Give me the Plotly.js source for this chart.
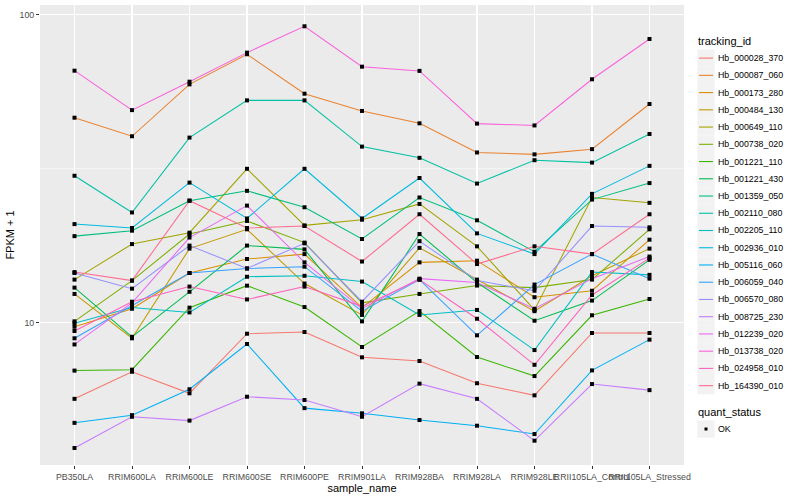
<!DOCTYPE html>
<html><head><meta charset="utf-8">
<script src="https://cdn.plot.ly/plotly-3.0.1.min.js"></script>
<style>html,body{margin:0;padding:0;background:#fff}#chart{width:800px;height:500px}</style>
</head><body><div id="chart"></div>
<script>
// ---- data ----
const sampleNames = ["PB350LA","RRIM600LA","RRIM600LE","RRIM600SE","RRIM600PE","RRIM901LA","RRIM928BA","RRIM928LA","RRIM928LE","RRII105LA_Control","RRII105LA_Stressed"];
const trackingIds = ["Hb_000028_370","Hb_000087_060","Hb_000173_280","Hb_000484_130","Hb_000649_110","Hb_000738_020","Hb_001221_110","Hb_001221_430","Hb_001359_050","Hb_002110_080","Hb_002205_110","Hb_002936_010","Hb_005116_060","Hb_006059_040","Hb_006570_080","Hb_008725_230","Hb_012239_020","Hb_013738_020","Hb_024958_010","Hb_164390_010"];
const hb_000028_370 = [5.66, 6.93, 5.90, 9.21, 9.33, 7.72, 7.51, 6.36, 5.81, 9.26, 9.26];
const hb_000087_060 = [46.3, 40.3, 59.4, 74.4, 55.4, 48.7, 44.4, 35.7, 35.2, 36.6, 51.3];
const hb_000173_280 = [9.7, 11.1, 14.5, 16.1, 16.7, 11.2, 15.7, 15.9, 12.1, 12.7, 18.6];
const hb_000484_130 = [12.4, 8.9, 17.4, 20.1, 13.4, 10.6, 17.5, 13.8, 10.9, 14.2, 17.4];
const hb_000649_110 = [13.8, 18.0, 19.6, 31.6, 20.7, 21.6, 24.3, 17.7, 11.0, 25.5, 24.5];
const hb_000738_020 = [10.1, 13.7, 19.4, 21.4, 18.2, 11.6, 12.4, 13.2, 13.0, 13.8, 20.1];
const hb_001221_110 = [6.99, 7.04, 11.19, 13.19, 11.24, 8.34, 10.91, 7.74, 6.71, 10.57, 11.94];
const hb_001221_430 = [13.0, 9.0, 12.6, 17.8, 17.3, 10.1, 19.4, 13.5, 10.15, 11.8, 16.0];
const hb_001359_050 = [19.1, 19.9, 24.9, 26.8, 23.7, 18.7, 25.5, 21.5, 17.0, 25.1, 28.4];
const hb_002110_080 = [30.0, 22.8, 39.9, 52.7, 52.7, 37.3, 34.3, 28.3, 33.7, 33.1, 41.0];
const hb_002205_110 = [9.96, 11.2, 10.8, 14.1, 14.2, 13.6, 10.6, 11.0, 8.15, 14.6, 14.3];
const hb_002936_010 = [20.9, 20.3, 28.5, 21.8, 31.6, 21.8, 29.5, 19.5, 16.7, 26.2, 32.3];
const hb_005116_060 = [4.73, 5.01, 6.08, 8.53, 5.28, 5.08, 4.83, 4.63, 4.35, 7.00, 8.81];
const hb_006059_040 = [8.9, 11.35, 14.5, 15.0, 15.2, 10.9, 13.8, 9.1, 13.3, 16.7, 13.9];
const hb_006570_080 = [14.5, 12.9, 17.8, 15.0, 18.1, 11.7, 18.4, 13.7, 12.7, 20.6, 20.4];
const hb_008725_230 = [3.92, 4.95, 4.81, 5.75, 5.61, 4.95, 6.34, 5.66, 4.14, 6.32, 6.04];
const hb_012239_020 = [8.5, 11.6, 18.9, 24.0, 15.7, 11.1, 13.9, 13.5, 11.1, 13.9, 16.4];
const hb_013738_020 = [65.8, 49.0, 60.6, 75.3, 91.7, 67.8, 65.7, 44.3, 43.7, 61.7, 83.4];
const hb_024958_010 = [9.4, 11.7, 13.1, 11.9, 13.1, 11.3, 13.8, 10.3, 7.3, 12.3, 16.2];
const hb_164390_010 = [14.6, 13.7, 24.9, 20.3, 20.6, 15.8, 22.5, 15.5, 17.7, 16.7, 22.5];
const quantStatus = ["OK"];
const yTickVals = [10, 100];
const yTickText = ["10", "100"];

const seriesList = [hb_000028_370, hb_000087_060, hb_000173_280, hb_000484_130, hb_000649_110, hb_000738_020, hb_001221_110, hb_001221_430, hb_001359_050, hb_002110_080, hb_002205_110, hb_002936_010, hb_005116_060, hb_006059_040, hb_006570_080, hb_008725_230, hb_012239_020, hb_013738_020, hb_024958_010, hb_164390_010];

// ---- styles ----
const palette = ["#F8766D","#EA8331","#D89000","#C09B00","#A3A500","#7CAE00","#39B600","#00BB4E","#00BF7D","#00C1A3","#00BFC4","#00BAE0","#00B0F6","#35A2FF","#9590FF","#C77CFF","#E76BF3","#FA62DB","#FF62BC","#FF6C91"];
const FONT = "Liberation Sans, Arial, Helvetica, sans-serif";

const traces = [];
seriesList.forEach((vals, i) => {
  traces.push({type:'scatter', mode:'lines', x: sampleNames, y: vals, name: trackingIds[i],
    line:{color: palette[i], width:1.05}, hoverinfo:'skip', showlegend:false});
});
seriesList.forEach((vals, i) => {
  traces.push({type:'scatter', mode:'markers', x: sampleNames, y: vals, name: quantStatus[0],
    marker:{symbol:'square', size:4, color:'#000'}, hoverinfo:'skip', showlegend:false});
});

// ---- manual ggplot-style legend ----
const L = 40, R = 684, T = 5, B = 465;
const px = x => (x - L) / (R - L);
const py = y => (B - y) / (B - T);
const annotations = [];
const shapes = [
  {type:'line', xref:'paper', x0:0, x1:1, yref:'y', y0:31.6228, y1:31.6228, layer:'below', line:{color:'#ffffff', width:0.55}}
];
annotations.push({xref:'paper', yref:'paper', x:px(696), y:py(40.7), xanchor:'left', yanchor:'middle', showarrow:false,
  text:'tracking_id', font:{family:FONT, size:11, color:'#000'}});
const step = 17.24, y0 = 58.1, half = 8.62;
trackingIds.forEach((id, k) => {
  const yc = y0 + step * k;
  shapes.push({type:'rect', xref:'paper', yref:'paper', x0:px(697.3), x1:px(714.6), y0:py(yc-half), y1:py(yc+half), fillcolor:'#F2F2F2', line:{width:0}});
  shapes.push({type:'line', xref:'paper', yref:'paper', x0:px(699), x1:px(713), y0:py(yc), y1:py(yc), line:{color:palette[k], width:1.1}});
  annotations.push({xref:'paper', yref:'paper', x:px(715.5), y:py(yc), xanchor:'left', yanchor:'middle', showarrow:false,
    text:id, font:{family:FONT, size:8.8, color:'#000'}});
});
annotations.push({xref:'paper', yref:'paper', x:px(696), y:py(412.3), xanchor:'left', yanchor:'middle', showarrow:false,
  text:'quant_status', font:{family:FONT, size:11, color:'#000'}});
shapes.push({type:'rect', xref:'paper', yref:'paper', x0:px(697.3), x1:px(714.6), y0:py(429-half), y1:py(429+half), fillcolor:'#F2F2F2', line:{width:0}});
shapes.push({type:'rect', xref:'paper', yref:'paper', x0:px(704.5), x1:px(707.5), y0:py(427.5), y1:py(430.5), fillcolor:'#000', line:{width:0}});
annotations.push({xref:'paper', yref:'paper', x:px(715.5), y:py(429), xanchor:'left', yanchor:'middle', showarrow:false,
  text:quantStatus[0], font:{family:FONT, size:8.8, color:'#000'}});

const layout = {
  width:800, height:500,
  margin:{l:L, r:800-R, t:T, b:500-B},
  paper_bgcolor:'#ffffff', plot_bgcolor:'#EBEBEB',
  font:{family:FONT, size:8.8, color:'#4D4D4D'},
  showlegend:false,
  xaxis:{type:'category', range:[-0.6, 10.6], tickangle:0, showgrid:true, gridcolor:'#ffffff', gridwidth:1.1,
    ticks:'outside', ticklen:3, tickwidth:1, tickcolor:'#333333', showline:false, zeroline:false,
    tickfont:{family:FONT, size:8.8, color:'#4D4D4D'}, automargin:false, fixedrange:true,
    title:{text:'sample_name', font:{family:FONT, size:11, color:'#000'}, standoff:2}},
  yaxis:{type:'log', range:[0.538, 2.0315], tickmode:'array', tickvals:yTickVals, ticktext:yTickText,
    showgrid:true, gridcolor:'#ffffff', gridwidth:1.1, ticks:'outside', ticklen:3, tickwidth:1, tickcolor:'#333333',
    showline:false, zeroline:false, tickfont:{family:FONT, size:8.8, color:'#4D4D4D'}, automargin:false, fixedrange:true,
    title:{text:'FPKM + 1', font:{family:FONT, size:11, color:'#000'}, standoff:2}},
  annotations: annotations,
  shapes: shapes
};
Plotly.newPlot('chart', traces, layout, {staticPlot:true, displayModeBar:false});
</script></body></html>
